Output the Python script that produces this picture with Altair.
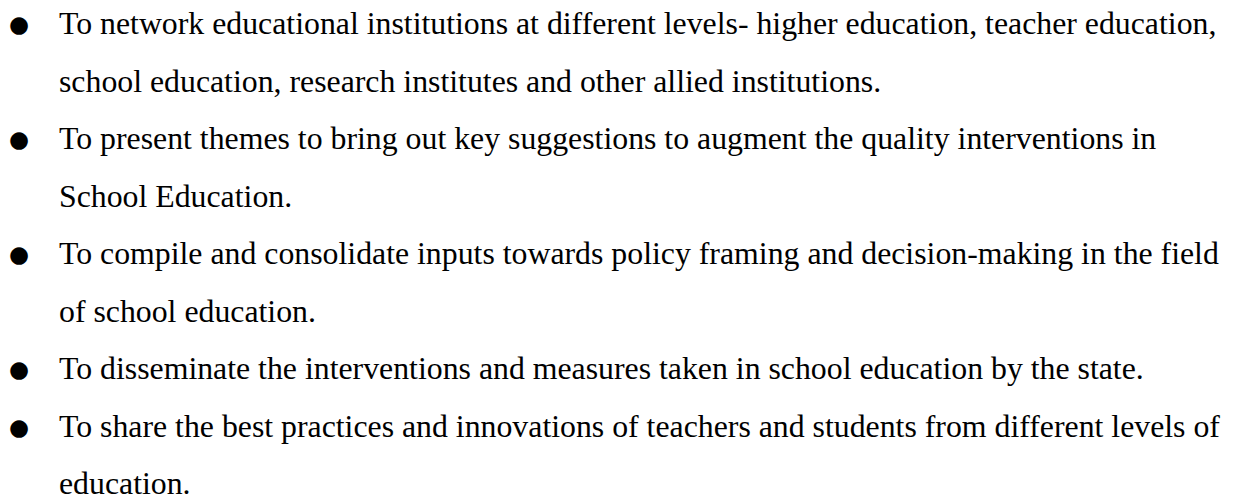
import altair as alt
import pandas as pd

lines = [
    "To network educational institutions at different levels- higher education, teacher education,",
    "school education, research institutes and other allied institutions.",
    "To present themes to bring out key suggestions to augment the quality interventions in",
    "School Education.",
    "To compile and consolidate inputs towards policy framing and decision-making in the field",
    "of school education.",
    "To disseminate the interventions and measures taken in school education by the state.",
    "To share the best practices and innovations of teachers and students from different levels of",
    "education.",
]
bullet_flags = [1, 0, 1, 0, 1, 0, 1, 1, 0]
line_index = list(range(len(lines)))

df = pd.DataFrame({"line": line_index, "text": lines, "bullet": bullet_flags})

yscale = alt.Scale(domain=[0, 8], range=[26, 486])

text = alt.Chart(df).mark_text(
    align="left", baseline="alphabetic", font="Liberation Serif",
    fontSize=31.8, color="#000000"
).encode(
    x=alt.value(50),
    y=alt.Y("line:Q", scale=yscale, axis=None),
    text="text:N",
)

bullets = alt.Chart(df).transform_filter("datum.bullet == 1").mark_text(
    align="center", baseline="alphabetic", font="DejaVu Sans", fontSize=23, color="#000000",
    dy=-2
).encode(
    x=alt.value(10),
    y=alt.Y("line:Q", scale=yscale, axis=None),
    text=alt.value("●"),
)

chart = alt.layer(text, bullets).properties(
    width=1230, height=491,
    autosize=alt.AutoSizeParams(type="fit", contains="padding"),
    padding=0,
    background="#ffffff",
).configure_view(stroke=None)

chart.save("out.html", embed_options={"renderer": "svg", "actions": False})
